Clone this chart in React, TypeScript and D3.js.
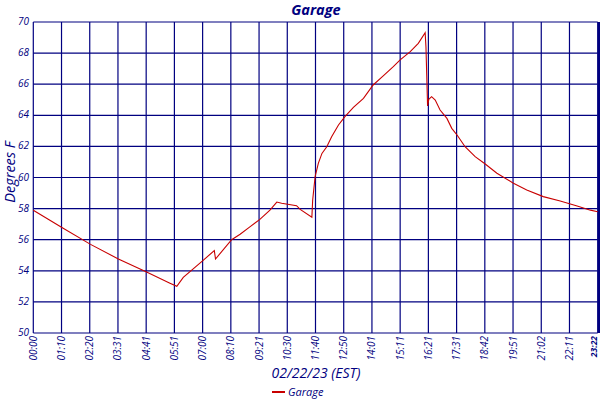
import React from "react";
import * as d3 from "d3";

const minutes = [0, 72, 142, 211, 281, 339, 356, 372, 422, 449, 452, 492, 513, 538, 562, 587, 604, 616, 653, 662, 691, 693, 699, 707, 716, 728, 740, 757, 773, 794, 819, 843, 868, 893, 910, 935, 955, 972, 974, 978, 981, 988, 997, 1009, 1026, 1038, 1052, 1071, 1096, 1121, 1150, 1191, 1224, 1265, 1307, 1349, 1382, 1400];
const temps = [57.9, 56.77, 55.7, 54.76, 53.92, 53.2, 53.0, 53.58, 54.69, 55.3, 54.76, 56.0, 56.35, 56.84, 57.31, 57.9, 58.42, 58.34, 58.19, 57.95, 57.45, 58.55, 60.05, 60.91, 61.55, 61.98, 62.62, 63.38, 63.91, 64.51, 65.09, 65.95, 66.53, 67.13, 67.56, 68.09, 68.63, 69.31, 68.4, 64.6, 65.03, 65.2, 64.98, 64.34, 63.8, 63.16, 62.7, 61.98, 61.34, 60.87, 60.27, 59.63, 59.2, 58.77, 58.49, 58.17, 57.9, 57.8];
const xTickLabels = ["00:00", "01:10", "02:20", "03:31", "04:41", "05:51", "07:00", "08:10", "09:21", "10:30", "11:40", "12:50", "14:01", "15:11", "16:21", "17:31", "18:42", "19:51", "21:02", "22:11", "23:22"];
const yTicks = [50, 52, 54, 56, 58, 60, 62, 64, 66, 68, 70];

const NAVY = "#000080";
const RED = "#c80000";
const FONT = "'Open Sans', sans-serif";

export default function App() {
  const left = 33.3, right = 597.7, top = 22, bottom = 333;
  const x = d3.scaleLinear().domain([0, 1400]).range([left, right]);
  const y = d3.scaleLinear().domain([50, 70]).range([bottom, top]);
  const tickMinutes = xTickLabels.map((_, i) => i * 70);
  const pts: [number, number][] = minutes.map((m, i) => [m, temps[i]]);
  const line = d3.line<[number, number]>().x(d => x(d[0])).y(d => y(d[1]));
  const last = xTickLabels.length - 1;

  return (
    <svg width={600} height={400} style={{ position: "absolute", left: 0, top: 0, background: "#fff" }} fontFamily={FONT}>
      <rect x={0} y={0} width={600} height={400} fill="#fff" />
      {yTicks.map(t => (
        <line key={"h" + t} x1={left} x2={right} y1={y(t)} y2={y(t)} stroke={NAVY} strokeWidth={1.2} />
      ))}
      {tickMinutes.map((m, i) => (
        <line key={"v" + i} x1={x(m)} x2={x(m)} y1={top} y2={bottom} stroke={NAVY} strokeWidth={1.2} />
      ))}
      <line x1={599} x2={599} y1={top} y2={bottom} stroke={NAVY} strokeWidth={2.2} />
      <path d={line(pts) || ""} fill="none" stroke={RED} strokeWidth={1.1} />
      {yTicks.map(t => (
        <text key={"yl" + t} x={29} y={y(t) + 3} textAnchor="end" fontSize={10} fontStyle="italic" fill={NAVY}>{t}</text>
      ))}
      {tickMinutes.map((m, i) => (
        <text key={"xl" + i} transform={`translate(${x(m) + (i === last ? -0.5 : 3.5)},${bottom + 3}) rotate(-90)`} textAnchor="end" fontSize={i === last ? 8.5 : 10} fontStyle="italic" fill={NAVY} fontWeight={i === last ? "bold" : "normal"}>{xTickLabels[i]}</text>
      ))}
      <text x={316} y={15} textAnchor="middle" fontSize={14.5} fontStyle="italic" fontWeight="bold" fill={NAVY}>Garage</text>
      <text transform={`translate(15,172) rotate(-90)`} textAnchor="middle" fontSize={14.5} fontStyle="italic" fill={NAVY}>Degrees F</text>
      <text x={316} y={378} textAnchor="middle" fontSize={14} fontStyle="italic" fill={NAVY}>02/22/23 (EST)</text>
      <line x1={272} x2={285} y1={392} y2={392} stroke={RED} strokeWidth={2} />
      <text x={288} y={396} fontSize={11} fontStyle="italic" fill={NAVY}>Garage</text>
    </svg>
  );
}
